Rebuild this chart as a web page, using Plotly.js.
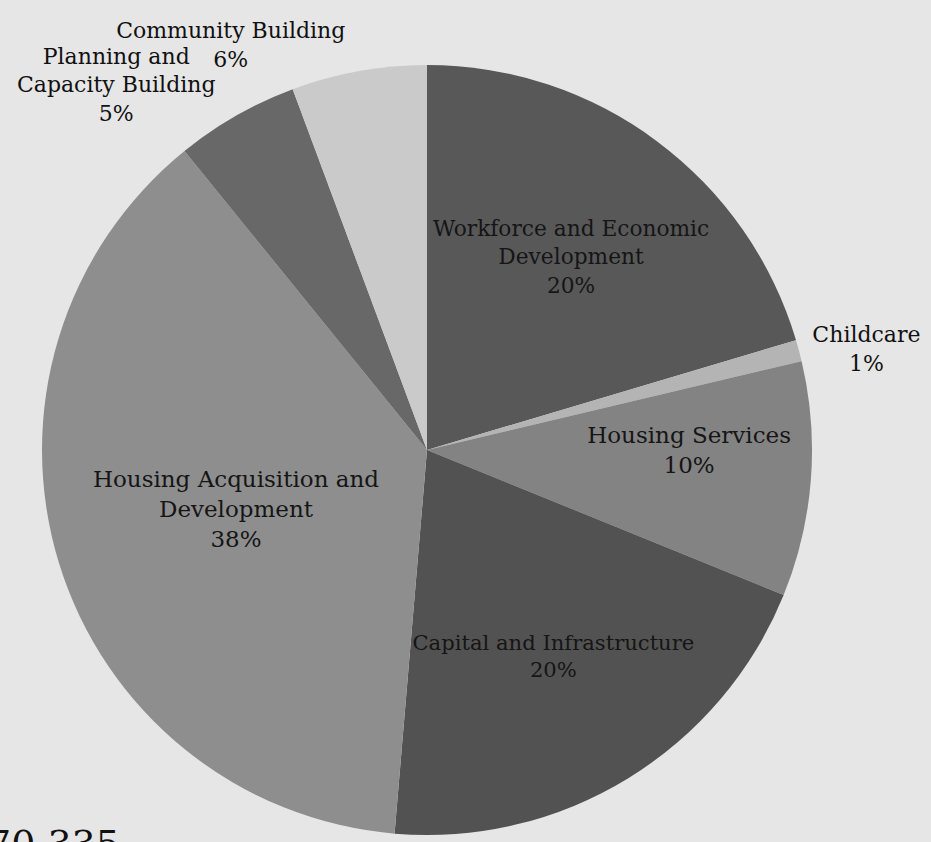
<!DOCTYPE html>
<html>
<head>
<meta charset="utf-8">
<script src="https://cdn.plot.ly/plotly-3.0.1.min.js"></script>
<style>html,body{margin:0;padding:0;background:#e6e6e6;}</style>
</head>
<body>
<div id="chart" style="width:931px;height:842px;"></div>
<script>
// Data (percent of total)
const categories = [
  "Workforce and Economic<br>Development",
  "Childcare",
  "Housing Services",
  "Capital and Infrastructure",
  "Housing Acquisition and<br>Development",
  "Planning and<br>Capacity Building",
  "Community Building"
];
const values = [20.5, 0.9, 9.9, 20.3, 38.0, 5.2, 5.7];
const sliceColors = ["#585858", "#b4b4b4", "#838383", "#525252", "#8e8e8e", "#686868", "#cacaca"];
// main trace labels; the last label is drawn by an overlay trace so it is not pushed by its neighbour
const textPositions = ["inside", "outside", "inside", "inside", "inside", "outside", "none"];
const overlayPositions = ["none", "none", "none", "none", "none", "none", "outside"];
const footText = "70,335";

const pieDomain = { x: [0.0451, 0.8722], y: [0.0083, 0.9228] };
const tmpl = "%{label}<br>%{percent:.0%}";

const trace = {
  type: "pie",
  labels: categories,
  values: values,
  sort: false,
  direction: "clockwise",
  rotation: 0,
  marker: { colors: sliceColors, line: { width: 0 } },
  textposition: textPositions,
  texttemplate: tmpl,
  insidetextorientation: "horizontal",
  insidetextfont: { family: "DejaVu Serif", size: 23, color: "#151515" },
  outsidetextfont: { family: "DejaVu Serif", size: 22, color: "#111" },
  hoverinfo: "none",
  showlegend: false,
  domain: pieDomain
};

const overlay = {
  type: "pie",
  labels: categories,
  values: values,
  sort: false,
  direction: "clockwise",
  rotation: 0,
  marker: { colors: categories.map(() => "rgba(0,0,0,0)"), line: { width: 0 } },
  textposition: overlayPositions,
  texttemplate: tmpl,
  outsidetextfont: { family: "DejaVu Serif", size: 22, color: "#111" },
  hoverinfo: "none",
  showlegend: false,
  domain: pieDomain
};

const layout = {
  width: 931,
  height: 842,
  margin: { l: 0, r: 0, t: 0, b: 0 },
  paper_bgcolor: "#e6e6e6",
  plot_bgcolor: "#e6e6e6",
  showlegend: false,
  annotations: [{
    text: footText,
    xref: "paper", yref: "paper",
    x: -0.016, y: 0.026,
    xanchor: "left", yanchor: "top",
    showarrow: false,
    font: { family: "DejaVu Serif", size: 38, color: "#111" }
  }]
};

Plotly.newPlot("chart", [trace, overlay], layout, { displayModeBar: false, staticPlot: true });
</script>
</body>
</html>
